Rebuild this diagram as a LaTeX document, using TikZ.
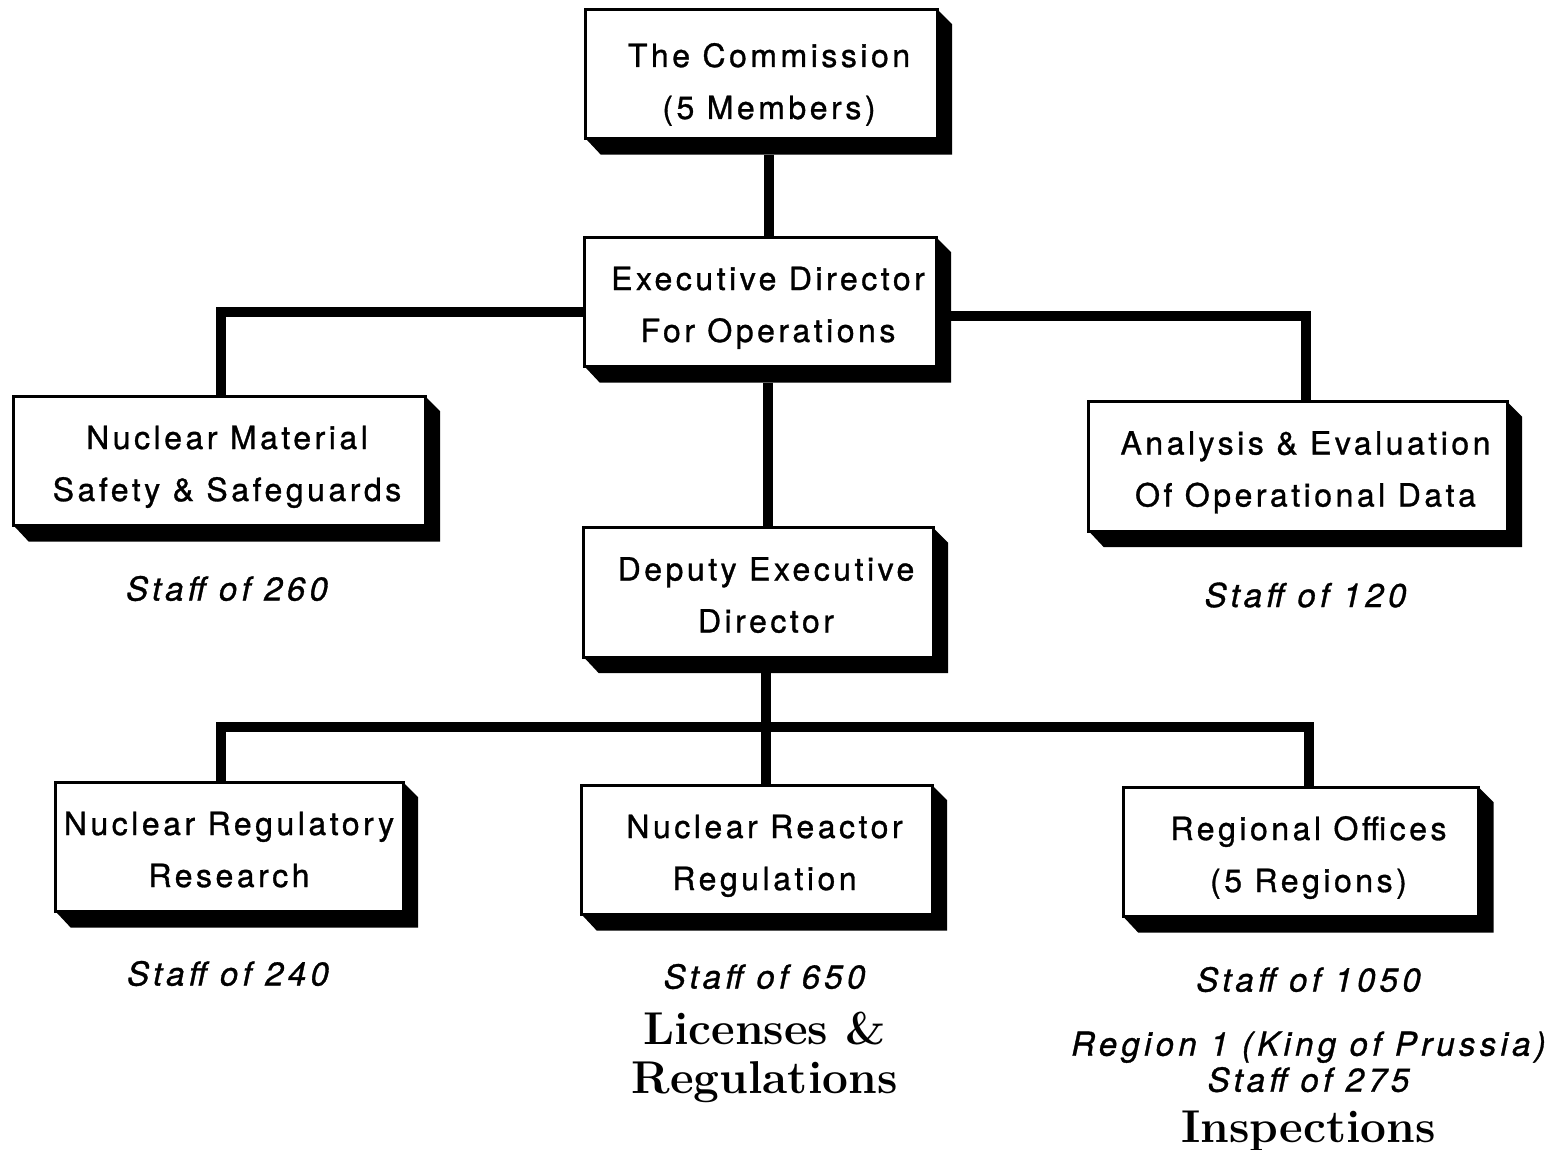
\documentclass[tikz,border=0pt]{standalone}
\usepackage{fontspec}
\usepackage{tikz}
\usetikzlibrary{
    positioning,
    calc,
    backgrounds
}
\newfontfamily\orgfont{TeX Gyre Heros}[LetterSpace=11, FakeBold=1,
    ItalicFeatures={LetterSpace=13}]
\tikzset{
    % Office box: node spans front face plus drop shadow
    orgbox/.style={
        rectangle,
        minimum width=#1,
        minimum height=145pt,
        inner sep=0pt,
        align=center,
        font=\orgfont\fontsize{32}{52}\selectfont,
        text height=68pt,
        text depth=4pt
    },
    % Staff count under a box
    staffnote/.style={
        inner sep=0pt,
        align=center,
        font=\orgfont\itshape\fontsize{33}{36}\selectfont
    },
    % Duty heading
    dutynote/.style={
        inner sep=0pt,
        align=center,
        font=\bfseries\fontsize{46}{49}\selectfont
    },
    % Connector line
    orglink/.style={
        line width=10pt
    }
}

\begin{document}
\begin{tikzpicture}[x=1pt, y=-1pt, node distance=34pt]
    \useasboundingbox (0,0) rectangle (1549,1150);

    % offices
    \node[orgbox=366pt, text height=78pt] (comm) at (769,82) {The Commission\\(5 Members)};
    \node[orgbox=366pt] (exec) at (768,310) {Executive Director\\For Operations};
    \node[orgbox=426pt] (nmss) at (227,469) {Nuclear Material\\Safety \& Safeguards};
    \node[orgbox=433pt] (aeod) at (1305.5,474.5) {Analysis \& Evaluation\\Of Operational Data};
    \node[orgbox=364pt] (ded) at (766,600.5) {Deputy Executive\\Director};
    \node[orgbox=362pt] (nrr) at (237,855) {\hspace*{-16pt}Nuclear Regulatory\\\hspace*{-16pt}Research};
    \node[orgbox=365pt] (nrreg) at (764.5,858) {Nuclear Reactor\\Regulation};
    \node[orgbox=370pt] (reg) at (1308.5,860) {Regional Offices\\(5 Regions)};

    % staff counts
    \node[staffnote, below=of nmss] (staff-nmss) {Staff of 260};
    \node[staffnote, below=35pt of aeod] (staff-aeod) {Staff of 120};
    \node[staffnote, below=33pt of nrr, xshift=-9pt] (staff-nrr) {Staff of 240};
    \node[staffnote, below=33pt of nrreg] (staff-nrreg) {Staff of 650};
    \node[staffnote, below=of reg] (staff-reg) {Staff of 1050};

    \node[dutynote, below=22pt of staff-nrreg] (duty-nrreg) {Licenses \&\\Regulations};
    \node[staffnote, below=39pt of staff-reg] (region1) {Region 1 (King of Prussia)\\Staff of 275};
    \node[dutynote, below=18pt of region1] (duty-reg) {Inspections};

    \begin{scope}[on background layer]
        \fill[white] (0,0) rectangle (1549,1150);
        % upper tier
        \draw[orglink] (comm.south) -- (comm.south |- exec.north);
        \draw[orglink] ([yshift=-2pt]exec.west) -| ([xshift=-6pt]nmss.north);
        \draw[orglink] ([yshift=-6pt]exec.east) -| (aeod.north);
        \draw[orglink] (exec.south) -- (exec.south |- ded.north);
        % lower tier
        \coordinate (bus) at (766,727);
        \draw[orglink] (ded.south) -- (bus);
        \draw[orglink] ([xshift=-16pt]nrr.north) |- (bus) -| (reg.north);
        \draw[orglink] (bus) -- (bus |- nrreg.north);
        % box faces with drop shadow
        \foreach \n in {comm,exec,nmss,aeod,ded,nrr,nrreg,reg}{
            \fill ($(\n.north east)+(-15,0)$) -- ($(\n.north east)+(0,15)$)
                -- (\n.south east) -- ($(\n.south west)+(15,0)$)
                -- ($(\n.south west)+(0,-16)$) -- cycle;
            \draw[line width=3pt, fill=white] (\n.north west) rectangle ($(\n.south east)+(-15,-16)$);
        }
    \end{scope}
\end{tikzpicture}
\end{document}
